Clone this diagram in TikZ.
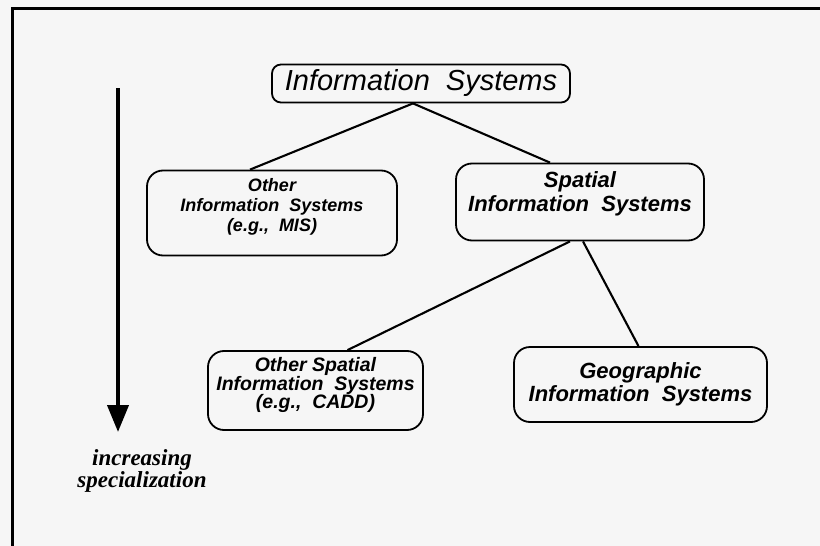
\documentclass[tikz,border=0pt]{standalone}
\usepackage{fontspec}
\newfontfamily\hv{Liberation Sans}
\newfontfamily\tm{Liberation Serif}
\usetikzlibrary{arrows.meta,calc}
\definecolor{paper}{RGB}{246,246,246}
\begin{document}
\begin{tikzpicture}[x=1pt,y=-1pt,
  box/.style={draw=black,line width=1.8pt,rounded corners=16pt,inner sep=0pt,align=center},
  link/.style={draw=black,line width=2.1pt},
  frameline/.style={draw=black,line width=3pt},
  bigtxt/.style={font=\hv\itshape\fontsize{29}{32}\selectfont},
  midtxt/.style={font=\hv\bfseries\itshape\fontsize{22}{23.5}\selectfont},
  smalltxt/.style={font=\hv\bfseries\itshape\fontsize{18}{20}\selectfont},
  smalltxtb/.style={font=\hv\bfseries\itshape\fontsize{19.5}{18.5}\selectfont}]
  \fill[paper] (0,0) rectangle (820,546);
  \useasboundingbox (0,0) rectangle (820,546);

  % frame
  \coordinate (fbl) at (12,548);
  \coordinate (ftl) at (12,8);
  \coordinate (ftr) at (822,8);
  \draw[frameline] (fbl) -- (ftl) -- (ftr);

  % hierarchy boxes
  \node[box,bigtxt,rounded corners=9pt,minimum width=298pt,minimum height=38pt] (is) at (421,83.5)
    {Information\ \ Systems};
  \node[box,smalltxt,minimum width=250pt,minimum height=85pt] (ois) at (272,213)
    {Other\\Information\ \ Systems\\(e.g.,\ \ MIS)\\[-4pt]};
  \node[box,midtxt,minimum width=248pt,minimum height=77pt] (sis) at (580,202)
    {Spatial\\Information\ \ Systems\\[-3pt]};
  \node[box,smalltxtb,minimum width=215pt,minimum height=79pt] (osis) at (315.5,390.5)
    {Other Spatial\\Information\ \ Systems\\(e.g.,\ \ CADD)\\[-4pt]};
  \node[box,midtxt,minimum width=253pt,minimum height=75pt] (gis) at (640.5,384.5)
    {Geographic\\Information\ \ Systems};

  % connectors
  \draw[link] ($(is.south)+(-8,0)$) -- ($(ois.north)+(-22,0)$);
  \draw[link] ($(is.south)+(-8,0)$) -- ($(sis.north)+(-30,0)$);
  \draw[link] ($(sis.south)+(-10,0)$) -- ($(osis.north)+(32,0)$);
  \draw[link] ($(sis.south)+(3,0)$) -- ($(gis.north)+(-2,0)$);

  % specialization arrow
  \coordinate (atop) at (118,88);
  \coordinate (abot) at (118,432);
  \draw[line width=4pt,-{Triangle[width=21pt,length=27pt]}] (atop) -- (abot);
  \node[align=center,font=\tm\bfseries\itshape\fontsize{23}{20.5}\selectfont] (lbl) at (142,471)
    {increasing\\specialization};
\end{tikzpicture}
\end{document}
